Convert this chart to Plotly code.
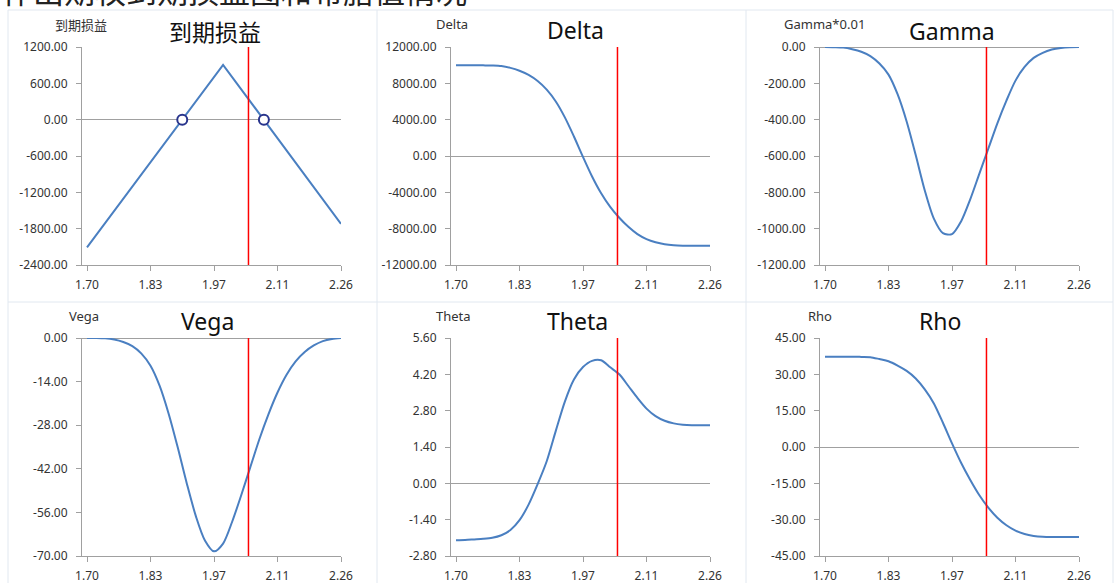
import plotly.graph_objects as go

W, H = 1118, 583

# ---------------- data ----------------
price_grid = [1.70, 1.72, 1.74, 1.76, 1.78, 1.80, 1.82, 1.84, 1.86, 1.88,
              1.90, 1.92, 1.94, 1.96, 1.98, 2.00, 2.02, 2.04, 2.06, 2.08,
              2.10, 2.12, 2.14, 2.16, 2.18, 2.20, 2.22, 2.24, 2.26]

payoff_x = [1.70, 2.00, 2.26]
payoff_y = [-2110, 905, -1720]
breakeven_x = [1.91, 2.09]
breakeven_y = [0, 0]

delta = [9990, 9990, 9990, 9980, 9960, 9900, 9700, 9380, 8920, 8250,
         7300, 6000, 4250, 2150, -100, -2250, -4100, -5600, -6800, -7800,
         -8600, -9150, -9500, -9720, -9830, -9870, -9875, -9875, -9875]

gamma = [0, -1, -3, -12, -26, -50, -91, -152, -260, -410,
         -595, -790, -945, -1025, -1030, -960, -840, -700, -560, -420,
         -295, -185, -110, -60, -32, -14, -5, -1, 0]

vega = [0, 0, -0.1, -0.5, -1.3, -2.6, -5.0, -8.9, -15.3, -24.3,
        -35.1, -46.7, -57.2, -65.0, -68.5, -66.0, -59.0, -50.5, -41.5, -32.5,
        -24.5, -17.5, -11.8, -7.5, -4.5, -2.4, -1.0, -0.3, 0]

theta = [-2.19, -2.18, -2.16, -2.14, -2.10, -2.00, -1.80, -1.42, -0.82, -0.03,
         0.85, 2.02, 3.15, 4.00, 4.48, 4.72, 4.74, 4.47, 4.20, 3.75,
         3.29, 2.88, 2.59, 2.41, 2.31, 2.26, 2.24, 2.24, 2.24]

rho = [37.3, 37.3, 37.3, 37.3, 37.2, 37.1, 36.3, 35.4, 33.6, 31.4,
       28.3, 23.8, 18.0, 10.0, 1.5, -6.5, -13.5, -19.8, -25.0, -29.2,
       -32.3, -34.5, -35.9, -36.7, -37.1, -37.2, -37.2, -37.2, -37.2]

current_price = 2.056

x_tickvals = [1.70, 1.84, 1.98, 2.12, 2.26]
x_ticktext = ["1.70", "1.83", "1.97", "2.11", "2.26"]

titles = ["到期损益", "Delta", "Gamma", "Vega", "Theta", "Rho"]
axis_labels = ["到期损益", "Delta", "Gamma*0.01", "Vega", "Theta", "Rho"]

y_ticks = [
    [1200, 600, 0, -600, -1200, -1800, -2400],
    [12000, 8000, 4000, 0, -4000, -8000, -12000],
    [0, -200, -400, -600, -800, -1000, -1200],
    [0, -14, -28, -42, -56, -70],
    [5.6, 4.2, 2.8, 1.4, 0, -1.4, -2.8],
    [45, 30, 15, 0, -15, -30, -45],
]

page_heading = "作出期权到期损益图和希腊值情况"

# ---------------- styling ----------------
BLUE = "#4a7fc1"
RED = "#ff0000"
AXIS = "#a0a0a0"
BORDER = "#e1e8f0"
TXT = "#333333"
FONT = "Noto Sans, Noto Sans CJK SC, sans-serif"
CJK = "Noto Sans CJK SC, sans-serif"


def px(x):
    return x / W


def py(y):
    return 1 - y / H


col_left = [82, 451, 820]
col_right = [341, 710, 1079]
row_top = [47, 338]
row_bot = [265, 556]
x_range = [1.70 - 5 / 254 * 0.56, 2.26]

title_pos = [(215, 31), (575, 30), (952, 31), (207, 321), (577, 321), (940, 321)]
label_pos = [(81, 24), (452, 24), (824, 24), (84, 316), (453, 316), (820, 316)]

fig = go.Figure()

series = [
    (payoff_x, payoff_y),
    (price_grid, delta),
    (price_grid, gamma),
    (price_grid, vega),
    (price_grid, theta),
    (price_grid, rho),
]

annotations = []
shapes = []

for i in range(6):
    r, c = divmod(i, 3)
    n = "" if i == 0 else str(i + 1)
    xa, ya = "x" + n, "y" + n
    xs, ys = series[i]
    line = dict(color=BLUE, width=2)
    if i > 0:
        line.update(shape="spline", smoothing=0.8)
    fig.add_trace(go.Scatter(x=xs, y=ys, mode="lines", line=line,
                             xaxis=xa, yaxis=ya, showlegend=False,
                             hoverinfo="x+y"))
    if i == 0:
        fig.add_trace(go.Scatter(x=breakeven_x, y=breakeven_y, mode="markers",
                                 marker=dict(symbol="circle", size=10,
                                             color="white",
                                             line=dict(color="#28348c", width=2)),
                                 xaxis=xa, yaxis=ya, showlegend=False))
    yt = y_ticks[i]
    fig.update_layout(**{
        "xaxis" + n: dict(domain=[px(col_left[c]), px(col_right[c])],
                          range=x_range, anchor=ya,
                          tickvals=x_tickvals, ticktext=x_ticktext,
                          ticks="outside", ticklen=5, tickcolor=AXIS,
                          showline=True, linecolor=AXIS, linewidth=1,
                          showgrid=False, zeroline=False,
                          ticklabelstandoff=4,
                          tickfont=dict(family=FONT, size=12, color=TXT)),
        "yaxis" + n: dict(domain=[py(row_bot[r]), py(row_top[r])],
                          range=[min(yt), max(yt)], anchor=xa,
                          tickvals=yt, ticktext=[f"{v:.2f}" for v in yt],
                          ticks="outside", ticklen=5, tickcolor=AXIS,
                          showline=True, linecolor=AXIS, linewidth=1,
                          showgrid=False, zeroline=True,
                          zerolinecolor=AXIS, zerolinewidth=1,
                          ticklabelstandoff=6,
                          tickfont=dict(family=FONT, size=12, color=TXT)),
    })
    shapes.append(dict(type="line", xref=xa, yref=ya + " domain",
                       x0=current_price, x1=current_price, y0=0, y1=1,
                       line=dict(color=RED, width=1.5), layer="above"))
    tx, ty = title_pos[i]
    annotations.append(dict(text=titles[i], x=px(tx), y=py(ty), xref="paper",
                            yref="paper", xanchor="center", yanchor="middle",
                            showarrow=False,
                            font=dict(family=CJK if i == 0 else FONT,
                                      size=23, color="#111111")))
    lx, ly = label_pos[i]
    annotations.append(dict(text=axis_labels[i], x=px(lx), y=py(ly),
                            xref="paper", yref="paper", xanchor="center",
                            yanchor="middle", showarrow=False,
                            font=dict(family=CJK if i == 0 else FONT,
                                      size=13, color=TXT)))

# panel borders
for xv in [8, 377, 746, 1113]:
    shapes.append(dict(type="line", xref="paper", yref="paper",
                       x0=px(xv), x1=px(xv), y0=py(10), y1=0,
                       line=dict(color=BORDER, width=1), layer="below"))
for yv in [10, 302]:
    shapes.append(dict(type="line", xref="paper", yref="paper",
                       x0=px(8), x1=px(1113), y0=py(yv), y1=py(yv),
                       line=dict(color=BORDER, width=1), layer="below"))

# cut-off page heading at the very top
annotations.append(dict(text=page_heading, x=px(0), y=py(-11), xref="paper",
                        yref="paper", xanchor="left", yanchor="middle",
                        showarrow=False,
                        font=dict(family=CJK, size=31, color="#222222")))

fig.update_layout(width=W, height=H, autosize=False,
                  margin=dict(l=0, r=0, t=0, b=0, pad=0, autoexpand=False),
                  paper_bgcolor="white", plot_bgcolor="white",
                  shapes=shapes, annotations=annotations)

fig.write_html("out.html")
